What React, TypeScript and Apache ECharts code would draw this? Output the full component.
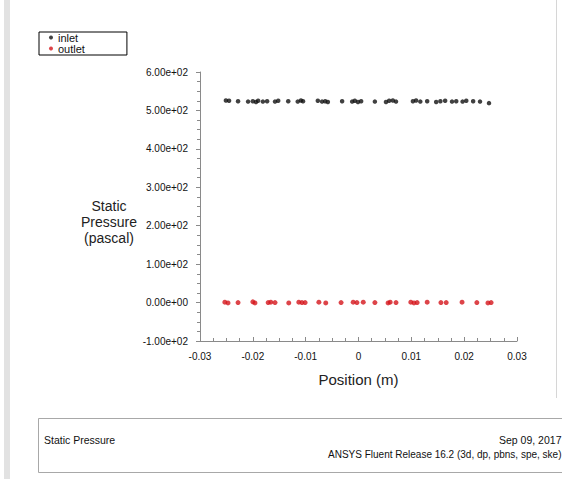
import React, { useEffect, useRef } from "react";
import * as echarts from "echarts";

const inletX = [-0.0251, -0.0245, -0.0228, -0.0209, -0.02, -0.0194, -0.019, -0.0181, -0.0173, -0.0158, -0.0152, -0.0133, -0.0115, -0.0109, -0.0105, -0.0077, -0.0069, -0.0063, -0.0058, -0.0031, -0.0012, -0.0007, -0.0001, 0.0005, 0.0031, 0.0052, 0.0058, 0.0065, 0.0071, 0.0103, 0.0109, 0.0117, 0.013, 0.0147, 0.0155, 0.0164, 0.0177, 0.0185, 0.0197, 0.0204, 0.0217, 0.023, 0.0247];
const inletY = [526, 525, 524, 523, 524, 522, 525, 523, 524, 523, 525, 524, 523, 526, 524, 525, 523, 524, 522, 524, 523, 525, 522, 524, 523, 522, 525, 526, 523, 524, 526, 523, 524, 522, 524, 525, 523, 524, 523, 525, 524, 523, 519];

const outletX = [-0.0253, -0.0247, -0.0228, -0.02, -0.0196, -0.0171, -0.0166, -0.0158, -0.0132, -0.0113, -0.0107, -0.0101, -0.0075, -0.0062, -0.0033, -0.001, -0.0003, 0.0009, 0.0031, 0.0056, 0.006, 0.0071, 0.0099, 0.0105, 0.0111, 0.013, 0.0156, 0.0166, 0.0196, 0.0224, 0.0245, 0.0251];
const outletY = [1, -1, 0, 2, -1, 0, 1, 0, -1, 1, 0, 0, 1, -1, 0, 1, 0, 1, 0, -1, 1, 0, 1, -1, 0, 1, 0, 0, 1, 0, -1, 0];

const seriesNames = ["inlet", "outlet"];
const xAxisTitle = "Position (m)";
const yAxisTitle = "Static\nPressure\n(pascal)";
const footerLeft = "Static Pressure";
const footerDate = "Sep 09, 2017";
const footerRelease = "ANSYS Fluent Release 16.2 (3d, dp, pbns, spe, ske)";

const FONT = "'Liberation Sans', Arial, sans-serif";

function fmtExp(v: number): string {
  if (v === 0) return "0.00e+00";
  const s = v.toExponential(2);
  const [m, e] = s.split("e");
  const sign = e[0];
  const d = e.slice(1).padStart(2, "0");
  return `${m}e${sign}${d}`;
}

function fmtX(v: number): string {
  const r = Math.round(v * 100) / 100;
  return r === 0 ? "0" : String(r);
}

export default function App() {
  const ref = useRef<HTMLDivElement>(null);
  useEffect(() => {
    if (!ref.current) return;
    const chart = echarts.init(ref.current, undefined, { renderer: "svg" });
    chart.setOption({
      animation: false,
      backgroundColor: "#ffffff",
      textStyle: { fontFamily: FONT },
      grid: { left: 200, top: 72, width: 317, height: 269, containLabel: false },
      legend: {
        left: 39,
        top: 32,
        orient: "vertical",
        data: seriesNames,
        borderColor: "#000",
        borderWidth: 1,
        borderRadius: 0,
        padding: [0, 42, 1, 10],
        itemGap: 0,
        itemWidth: 4,
        itemHeight: 4,
        itemTextGap: 6,
        icon: "circle",
        textStyle: { fontSize: 11, lineHeight: 11, color: "#111", fontFamily: FONT },
      },
      xAxis: {
        type: "value",
        min: -0.03,
        max: 0.03,
        interval: 0.01,
        name: xAxisTitle,
        nameLocation: "middle",
        nameGap: 31,
        nameTextStyle: { fontSize: 15, color: "#222", fontFamily: FONT },
        axisLine: { show: true, onZero: false, lineStyle: { color: "#8a8a8a", width: 1 } },
        axisTick: { show: true, inside: true, length: 4, lineStyle: { color: "#8a8a8a" } },
        minorTick: { show: true, splitNumber: 4, length: 3, lineStyle: { color: "#8a8a8a" } },
        splitLine: { show: false },
        axisLabel: { formatter: fmtX, fontSize: 10, color: "#111", margin: 10, fontFamily: FONT },
      },
      yAxis: {
        type: "value",
        min: -100,
        max: 600,
        interval: 100,
        axisLine: { show: true, onZero: false, lineStyle: { color: "#8a8a8a", width: 1 } },
        axisTick: { show: true, inside: false, length: 4, lineStyle: { color: "#8a8a8a" } },
        minorTick: { show: true, splitNumber: 4, length: 3, lineStyle: { color: "#8a8a8a" } },
        splitLine: { show: false },
        axisLabel: { formatter: fmtExp, fontSize: 10, color: "#111", margin: 12, fontFamily: FONT },
      },
      series: [
        {
          name: seriesNames[0],
          type: "scatter",
          symbol: "circle",
          symbolSize: 4.5,
          itemStyle: { color: "#111111" },
          data: inletX.map((x, i) => [x, inletY[i]]),
        },
        {
          name: seriesNames[1],
          type: "scatter",
          symbol: "circle",
          symbolSize: 5,
          itemStyle: { color: "#d4151c" },
          data: outletX.map((x, i) => [x, outletY[i]]),
        },
      ],
      graphic: [
        { type: "rect", shape: { x: 4, y: 0, width: 6, height: 479 }, style: { fill: "#e2e2e2" }, silent: true },
        { type: "line", shape: { x1: 556.5, y1: 0, x2: 556.5, y2: 398 }, style: { stroke: "#d6d6d6", lineWidth: 1 }, silent: true },
        {
          type: "text",
          x: 109,
          y: 222,
          style: {
            text: yAxisTitle,
            fontSize: 14,
            lineHeight: 16,
            fontFamily: FONT,
            fill: "#222",
            align: "center",
            verticalAlign: "middle",
          },
        },
        { type: "rect", shape: { x: 38.5, y: 418.5, width: 560, height: 54 }, style: { fill: "none", stroke: "#a8a8a8", lineWidth: 1 }, silent: true },
        {
          type: "text",
          x: 44,
          y: 440,
          style: { text: footerLeft, fontSize: 10.5, fontFamily: FONT, fill: "#111", align: "left", verticalAlign: "middle" },
        },
        {
          type: "text",
          x: 499,
          y: 440,
          style: { text: footerDate, fontSize: 10.5, fontFamily: FONT, fill: "#111", align: "left", verticalAlign: "middle" },
        },
        {
          type: "text",
          x: 328,
          y: 454,
          style: { text: footerRelease, fontSize: 10, fontFamily: FONT, fill: "#111", align: "left", verticalAlign: "middle" },
        },
      ],
    });
    return () => chart.dispose();
  }, []);
  return (
    <div
      ref={ref}
      style={{ position: "absolute", left: 0, top: 0, width: 562, height: 479, overflow: "hidden" }}
    />
  );
}
